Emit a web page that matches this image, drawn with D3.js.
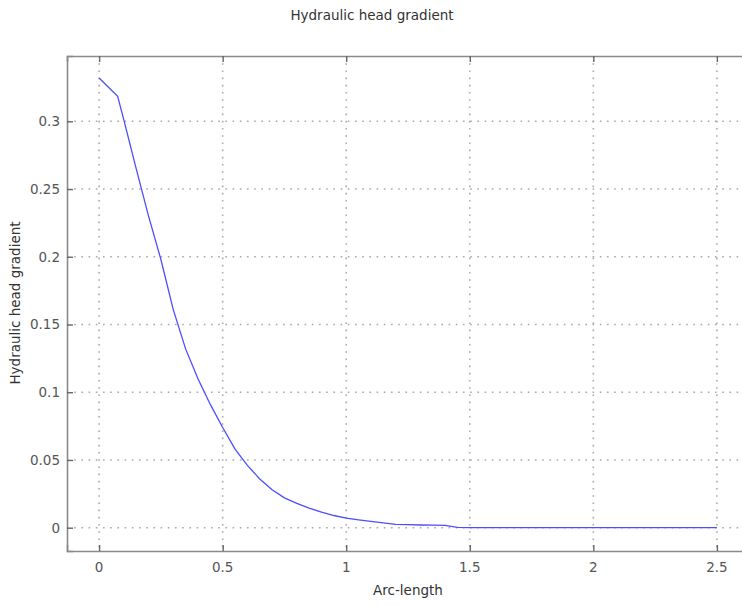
<!DOCTYPE html>
<html>
<head>
<meta charset="utf-8">
<script src="https://cdn.jsdelivr.net/npm/d3@7"></script>
<style>
	body { margin: 0; background: #fff; }
	text { font-family: "DejaVu Sans", sans-serif; }
</style>
</head>
<body>
<div id="chart"></div>
<script>
// values
let arc_length = [0, 0.075, 0.1, 0.15, 0.2, 0.25, 0.3, 0.35, 0.4, 0.45, 0.5, 0.55, 0.6, 0.65,
	0.7, 0.75, 0.8, 0.85, 0.9, 0.95, 1.0, 1.05, 1.1, 1.15, 1.2, 1.25, 1.3, 1.35, 1.4, 1.45,
	1.5, 1.75, 2.0, 2.25, 2.5];
let gradient = [0.332, 0.3185, 0.301, 0.265, 0.23, 0.198, 0.161, 0.132, 0.11, 0.091, 0.074, 0.058, 0.046, 0.036,
	0.028, 0.022, 0.018, 0.0145, 0.0115, 0.009, 0.007, 0.0058, 0.0046, 0.0036, 0.0025, 0.0022, 0.002, 0.0019, 0.0017, 0.0003,
	0, 0, 0, 0, 0];
let x_ticks = [0, 0.5, 1, 1.5, 2, 2.5];
let y_ticks = [0, 0.05, 0.1, 0.15, 0.2, 0.25, 0.3];

let width = 742, height = 606;
let left = 67, top_ = 56, right = 749, bottom = 551;
let axis_color = '#8a8a8a';

let svg = d3.select('#chart')
	.append('svg')
	.attr('width', width)
	.attr('height', height);

let x = d3.scaleLinear().domain([-0.13, 2.63]).range([left, right]);
let y = d3.scaleLinear().domain([-0.0172, 0.3482]).range([bottom, top_]);

// dotted grid
svg.append('g')
	.selectAll('line')
	.data(x_ticks)
	.join('line')
	.attr('x1', d => x(d)).attr('x2', d => x(d))
	.attr('y1', top_).attr('y2', bottom)
	.attr('stroke', '#a8a8a8')
	.attr('stroke-width', 1.6)
	.attr('stroke-dasharray', '1.6,5.6');

svg.append('g')
	.selectAll('line')
	.data(y_ticks)
	.join('line')
	.attr('x1', left).attr('x2', right)
	.attr('y1', d => y(d)).attr('y2', d => y(d))
	.attr('stroke', '#a8a8a8')
	.attr('stroke-width', 1.6)
	.attr('stroke-dasharray', '1.6,5.6');

// axes, ticks point inwards
let bottom_axis = d3.axisTop(x).tickValues(x_ticks).tickSize(6).tickFormat('');
let top_axis = d3.axisBottom(x).tickValues(x_ticks).tickSize(6).tickFormat('');
let left_axis = d3.axisRight(y).tickValues(y_ticks).tickSize(6).tickFormat('');

function style_axis(g)
{
	g.select('.domain').attr('stroke', axis_color).attr('stroke-width', 1.6);
	g.selectAll('.tick line').attr('stroke', '#666').attr('stroke-width', 1.4);
}

svg.append('g').attr('transform', 'translate(0,' + bottom + ')').call(bottom_axis).call(style_axis);
svg.append('g').attr('transform', 'translate(0,' + top_ + ')').call(top_axis).call(style_axis);
svg.append('g').attr('transform', 'translate(' + left + ',0)').call(left_axis).call(style_axis);

// tick labels
svg.append('g')
	.selectAll('text')
	.data(x_ticks)
	.join('text')
	.attr('x', d => x(d))
	.attr('y', 572)
	.attr('text-anchor', 'middle')
	.attr('font-size', '13.5px')
	.attr('fill', '#555')
	.text(d => d);

svg.append('g')
	.selectAll('text')
	.data(y_ticks)
	.join('text')
	.attr('x', 60)
	.attr('y', d => y(d) + 5)
	.attr('text-anchor', 'end')
	.attr('font-size', '13.5px')
	.attr('fill', '#555')
	.text(d => d);

// curve
let line = d3.line()
	.x(d => x(d[0]))
	.y(d => y(d[1]));

svg.append('path')
	.datum(d3.zip(arc_length, gradient))
	.attr('d', line)
	.attr('fill', 'none')
	.attr('stroke', '#4d4dff')
	.attr('stroke-width', 1.3);

// titles
svg.append('text')
	.attr('x', 372)
	.attr('y', 20)
	.attr('text-anchor', 'middle')
	.attr('font-size', '13.5px')
	.attr('fill', '#333')
	.text('Hydraulic head gradient');

svg.append('text')
	.attr('x', 408)
	.attr('y', 595)
	.attr('text-anchor', 'middle')
	.attr('font-size', '13.5px')
	.attr('fill', '#333')
	.text('Arc-length');

svg.append('text')
	.attr('transform', 'translate(20,' + 303 + ') rotate(-90)')
	.attr('text-anchor', 'middle')
	.attr('font-size', '13.5px')
	.attr('fill', '#333')
	.text('Hydraulic head gradient');
</script>
</body>
</html>
